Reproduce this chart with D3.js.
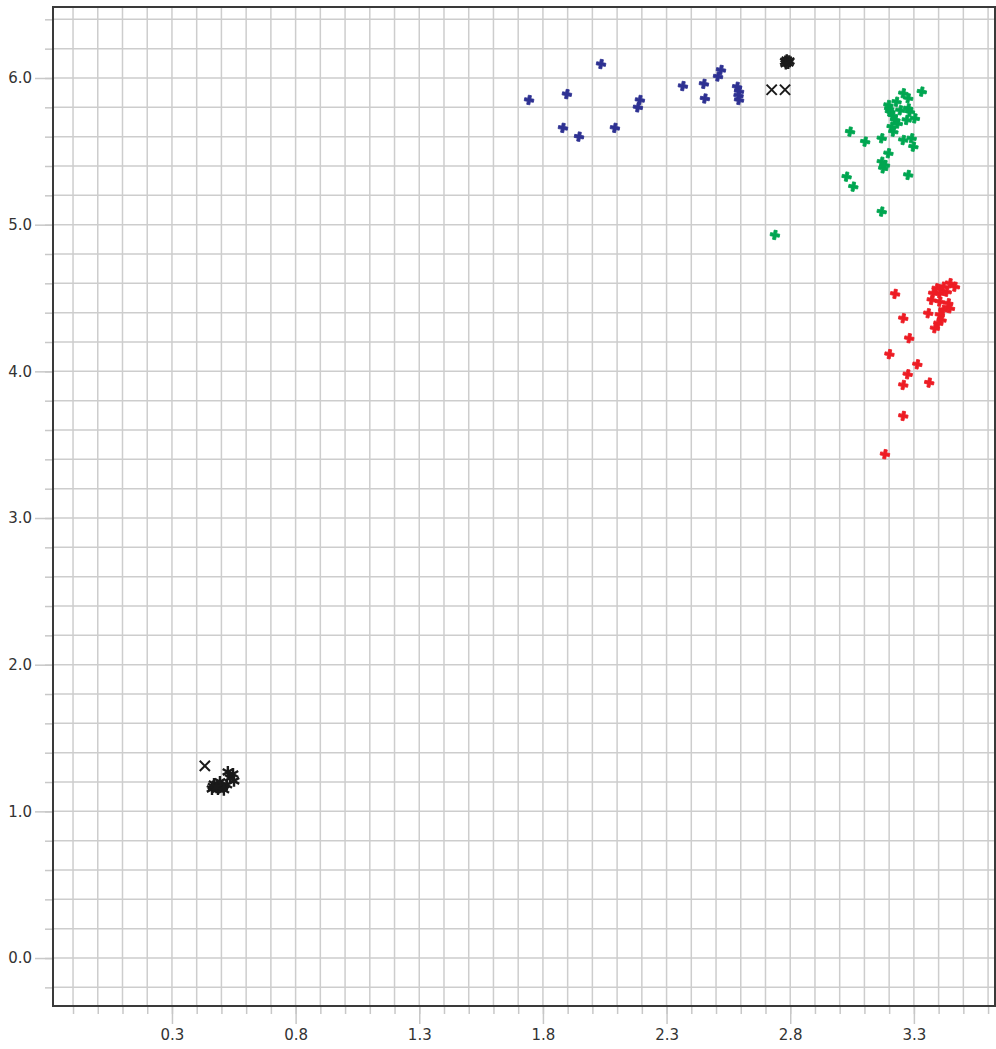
<!DOCTYPE html>
<html lang="en">
<head>
<meta charset="utf-8">
<script src="https://d3js.org/d3.v7.min.js"></script>
<style>
body { margin: 0; background: #fff; }
svg text { font-family: "DejaVu Sans", Verdana, sans-serif; font-size: 15px; fill: #333; }
</style>
</head>
<body>
<div id="chart"></div>
<script>
// blue cluster
var blueX = [1.744, 1.897, 2.035, 1.881, 1.946, 2.091, 2.192, 2.184, 2.366, 2.451, 2.455, 2.520, 2.508, 2.585, 2.593, 2.591, 2.593];
var blueY = [5.85, 5.89, 6.095, 5.66, 5.60, 5.66, 5.85, 5.80, 5.945, 5.96, 5.86, 6.055, 6.01, 5.94, 5.91, 5.88, 5.85];

// green cluster
var greenX = [3.332, 3.257, 3.277, 3.230, 3.197, 3.203, 3.277, 3.284, 3.304, 3.271, 3.224, 3.210, 3.217, 3.042, 3.103, 3.170, 3.257, 3.291, 3.298, 3.197, 3.170, 3.183, 3.176, 3.277, 3.028, 3.055, 3.170, 2.738, 3.200, 3.245, 3.215, 3.235];
var greenY = [5.907, 5.896, 5.862, 5.838, 5.816, 5.770, 5.793, 5.770, 5.725, 5.714, 5.714, 5.668, 5.634, 5.634, 5.566, 5.589, 5.577, 5.589, 5.532, 5.487, 5.429, 5.407, 5.384, 5.339, 5.327, 5.259, 5.089, 4.930, 5.790, 5.780, 5.745, 5.690];

// red cluster
var redX = [3.446, 3.466, 3.419, 3.392, 3.378, 3.405, 3.433, 3.372, 3.405, 3.439, 3.446, 3.419, 3.358, 3.405, 3.412, 3.399, 3.385, 3.224, 3.257, 3.281, 3.201, 3.314, 3.275, 3.257, 3.362, 3.257, 3.183];
var redY = [4.601, 4.577, 4.577, 4.566, 4.532, 4.532, 4.543, 4.487, 4.475, 4.464, 4.430, 4.419, 4.396, 4.385, 4.350, 4.328, 4.294, 4.528, 4.362, 4.226, 4.117, 4.048, 3.980, 3.907, 3.923, 3.696, 3.435];

// black asterisks and crosses
var starX = [2.780, 2.792, 2.786, 2.796, 2.782,
             0.462, 0.486, 0.502, 0.470, 0.494, 0.522, 0.535, 0.547, 0.526, 0.551, 0.510, 0.466, 0.480];
var starY = [6.112, 6.102, 6.122, 6.115, 6.098,
             1.153, 1.153, 1.174, 1.187, 1.201, 1.181, 1.228, 1.255, 1.269, 1.208, 1.147, 1.170, 1.165];
var crossX = [2.725, 2.779, 0.433];
var crossY = [5.920, 5.920, 1.310];

var xMajor = [0.3, 0.8, 1.3, 1.8, 2.3, 2.8, 3.3];
var yMajor = [0.0, 1.0, 2.0, 3.0, 4.0, 5.0, 6.0];

var width = 996, height = 1049;
var mLeft = 53, mTop = 7, mRight = 995, mBottom = 1006;

var x = d3.scaleLinear().domain([-0.181, 3.628]).range([mLeft, mRight]);
var y = d3.scaleLinear().domain([-0.327, 6.484]).range([mBottom, mTop]);

var xGrid = d3.range(-1, 37).map(function(i) { return i / 10; });
var yGrid = d3.range(-1, 33).map(function(i) { return i / 5; });

var svg = d3.select("#chart").append("svg")
    .attr("width", width)
    .attr("height", height);

// grid
svg.append("g").selectAll("line").data(xGrid).enter().append("line")
    .attr("x1", function(d) { return x(d); }).attr("x2", function(d) { return x(d); })
    .attr("y1", mTop).attr("y2", mBottom)
    .attr("stroke", "#cdcdcd").attr("stroke-width", 1.5);
svg.append("g").selectAll("line").data(yGrid).enter().append("line")
    .attr("y1", function(d) { return y(d); }).attr("y2", function(d) { return y(d); })
    .attr("x1", mLeft).attr("x2", mRight)
    .attr("stroke", "#cdcdcd").attr("stroke-width", 1.5);

// minor ticks
var xMinor = svg.append("g").attr("transform", "translate(0," + mBottom + ")")
    .call(d3.axisBottom(x).tickValues(xGrid).tickSize(8).tickFormat(""));
var yMinor = svg.append("g").attr("transform", "translate(" + mLeft + ",0)")
    .call(d3.axisLeft(y).tickValues(yGrid).tickSize(8).tickFormat(""));

// major ticks with labels
var xAxis = svg.append("g").attr("transform", "translate(0," + mBottom + ")")
    .call(d3.axisBottom(x).tickValues(xMajor).tickSize(18).tickPadding(5).tickFormat(d3.format(".1f")));
var yAxis = svg.append("g").attr("transform", "translate(" + mLeft + ",0)")
    .call(d3.axisLeft(y).tickValues(yMajor).tickSize(18).tickPadding(3).tickFormat(d3.format(".1f")));

[xMinor, yMinor, xAxis, yAxis].forEach(function(g) {
    g.attr("font-size", null).attr("font-family", null);
    g.select(".domain").remove();
    g.selectAll(".tick line").attr("stroke", "#c8c8c8").attr("stroke-width", 1.5);
    g.selectAll("text").attr("fill", "#333");
});

// frame
svg.append("rect")
    .attr("x", mLeft).attr("y", mTop)
    .attr("width", mRight - mLeft).attr("height", mBottom - mTop)
    .attr("fill", "none").attr("stroke", "#3a3a3a").attr("stroke-width", 2);

function drawCrosses(xs, ys, color) {
    svg.append("g").selectAll("path").data(xs).enter().append("path")
        .attr("d", d3.symbol().type(d3.symbolCross).size(48))
        .attr("transform", function(d, i) {
            return "translate(" + x(d) + "," + y(ys[i]) + ") rotate(10)";
        })
        .attr("fill", color)
        .attr("stroke", color).attr("stroke-width", 0.8);
}

drawCrosses(blueX, blueY, "#2e3192");
drawCrosses(greenX, greenY, "#00a651");
drawCrosses(redX, redY, "#ed1c24");

// black asterisks
svg.append("g").selectAll("path").data(starX).enter().append("path")
    .attr("d", d3.symbol().type(d3.symbolAsterisk).size(100))
    .attr("transform", function(d, i) { return "translate(" + x(d) + "," + y(starY[i]) + ")"; })
    .attr("fill", "none").attr("stroke", "#1a1a1a").attr("stroke-width", 2.4);

// black x marks
svg.append("g").selectAll("path").data(crossX).enter().append("path")
    .attr("d", d3.symbol().type(d3.symbolX).size(70))
    .attr("transform", function(d, i) { return "translate(" + x(d) + "," + y(crossY[i]) + ")"; })
    .attr("fill", "none").attr("stroke", "#1a1a1a").attr("stroke-width", 2);
</script>
</body>
</html>
